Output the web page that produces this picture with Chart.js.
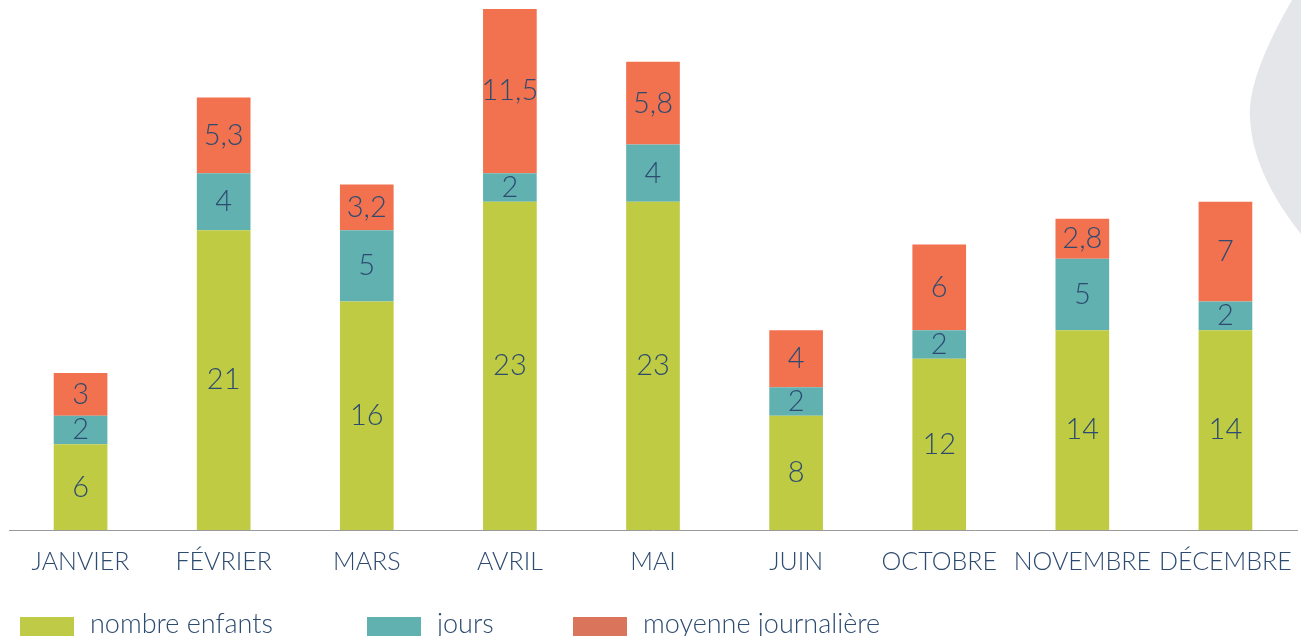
<!DOCTYPE html>
<html>
<head>
<meta charset="utf-8">
<script src="https://cdn.jsdelivr.net/npm/chart.js@4.4.1/dist/chart.umd.min.js"></script>
<style>
  html, body { margin: 0; padding: 0; background: #fff; overflow: hidden; }
  #wrap { position: relative; width: 1301px; height: 636px; overflow: hidden; }
  #legend { position: absolute; left: 0; top: 612px; width: 1301px; height: 40px; }
  .item { position: absolute; top: 0; display: flex; align-items: flex-start; font-family: Lato, sans-serif; font-weight: 300; font-size: 27px; color: #2d4b70; white-space: nowrap; }
  .item .box { width: 54px; height: 19px; margin-top: 5px; margin-right: 16px; }
  .item .txt { position: relative; top: -6px; }
</style>
</head>
<body>
<div id="wrap">
  <canvas id="chart" width="1301" height="636"></canvas>
  <div id="legend"></div>
</div>
<script>
const months = ['JANVIER', 'FÉVRIER', 'MARS', 'AVRIL', 'MAI', 'JUIN', 'OCTOBRE', 'NOVEMBRE', 'DÉCEMBRE'];
const nombreEnfants = [6, 21, 16, 23, 23, 8, 12, 14, 14];
const jours = [2, 4, 5, 2, 4, 2, 2, 5, 2];
const moyenneJournaliere = [3, 5.3, 3.2, 11.5, 5.8, 4, 6, 2.8, 7];

const textColor = '#2d4b70';
const legendColors = ['#bfcb46', '#62b1b1', '#da745a'];
const legendLeft = [20, 367, 573];

// grey decorative shape in the top right corner
const backdrop = {
    id: 'backdrop',
    beforeDraw(chart) {
        const c = chart.ctx;
        c.save();
        c.fillStyle = '#e5e6e9';
        c.beginPath();
        c.moveTo(1292, 0);
        c.bezierCurveTo(1266, 45, 1248, 88, 1250, 118);
        c.bezierCurveTo(1252, 160, 1274, 200, 1301, 234);
        c.lineTo(1301, 0);
        c.closePath();
        c.fill();
        c.restore();
    }
};

// value written in the middle of each segment
const segmentLabels = {
    id: 'segmentLabels',
    afterDatasetsDraw(chart) {
        const c = chart.ctx;
        c.save();
        c.fillStyle = textColor;
        c.font = '300 29px Lato, sans-serif';
        c.textAlign = 'center';
        c.textBaseline = 'middle';
        chart.data.datasets.forEach((ds, i) => {
            chart.getDatasetMeta(i).data.forEach((bar, j) => {
                const { x, y, base } = bar.getProps(['x', 'y', 'base'], true);
                const txt = String(ds.data[j]).replace('.', ',');
                c.fillText(txt, x, (y + base) / 2);
            });
        });
        c.restore();
    }
};

const ctx = document.getElementById('chart').getContext('2d');
const chart = new Chart(ctx, {
    type: 'bar',
    data: {
        labels: months,
        datasets: [
            { label: 'nombre enfants', data: nombreEnfants, backgroundColor: '#bfcb42' },
            { label: 'jours', data: jours, backgroundColor: '#62b1b1' },
            { label: 'moyenne journalière', data: moyenneJournaliere, backgroundColor: '#f2714f' }
        ]
    },
    options: {
        responsive: false,
        animation: false,
        layout: { padding: { top: 9, left: 9, right: 4, bottom: 57 } },
        datasets: {
            bar: { categoryPercentage: 1, barPercentage: 0.375, borderWidth: 0 }
        },
        plugins: {
            legend: { display: false },
            tooltip: { enabled: false }
        },
        scales: {
            x: {
                stacked: true,
                grid: { display: false, drawTicks: true, tickLength: 15 },
                border: { display: true, color: '#9a9a9a', width: 1 },
                ticks: {
                    color: textColor,
                    padding: 2,
                    maxRotation: 0,
                    minRotation: 0,
                    autoSkip: false,
                    font: { family: 'Lato, sans-serif', weight: '300', size: 25 }
                }
            },
            y: {
                stacked: true,
                display: false,
                min: 0,
                max: 36.5
            }
        }
    },
    plugins: [backdrop, segmentLabels]
});

// legend built from the datasets
const legend = document.getElementById('legend');
chart.data.datasets.forEach((ds, i) => {
    const item = document.createElement('div');
    item.className = 'item';
    item.style.left = legendLeft[i] + 'px';
    item.innerHTML = '<span class="box" style="background:' + legendColors[i] + '"></span><span class="txt">' + ds.label + '</span>';
    legend.appendChild(item);
});
</script>
</body>
</html>
